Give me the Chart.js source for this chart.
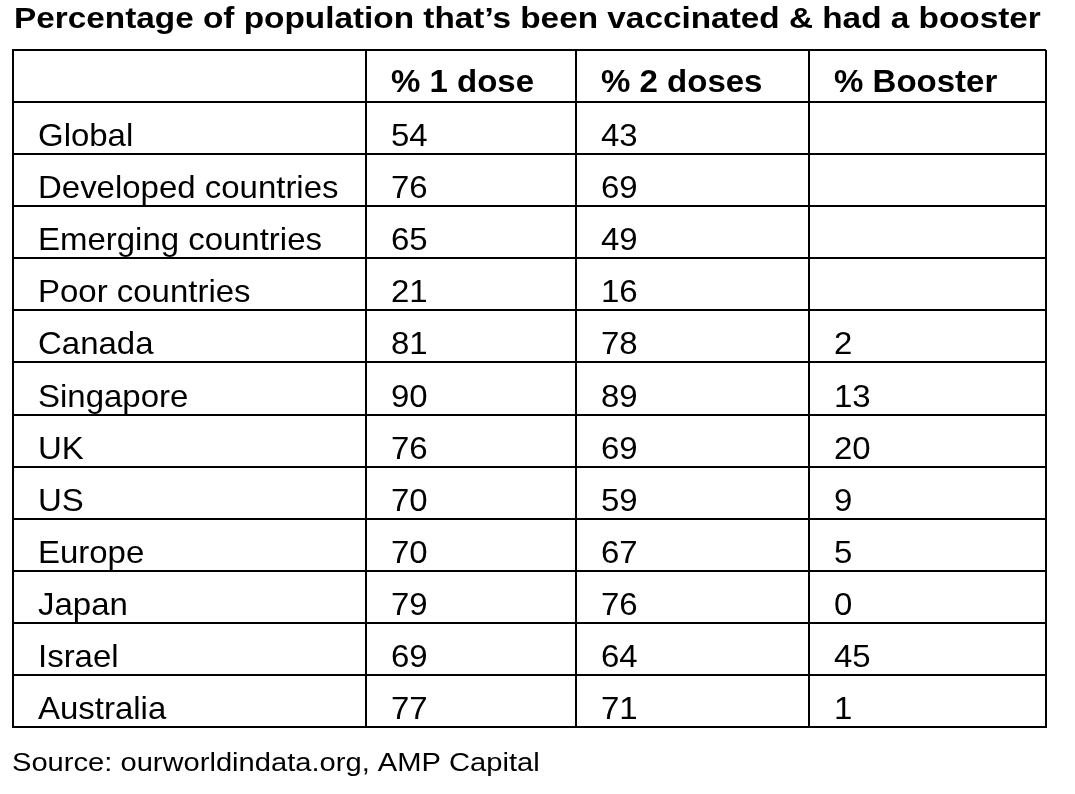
<!DOCTYPE html>
<html>
<head>
<meta charset="utf-8">
<title>Vaccination table</title>
<script src="https://cdn.jsdelivr.net/npm/chart.js@4.4.1/dist/chart.umd.min.js"></script>
<style>
  html, body { margin: 0; padding: 0; background: #fff; }
  #wrap { width: 1075px; height: 794px; position: relative; }
</style>
</head>
<body>
<div id="wrap"><canvas id="vaxTable"></canvas></div>
<script>
const titleText = 'Percentage of population that\u2019s been vaccinated & had a booster';
const sourceText = 'Source: ourworldindata.org, AMP Capital';

const headers = ['% 1 dose', '% 2 doses', '% Booster'];
const rowNames = ['Global', 'Developed countries', 'Emerging countries', 'Poor countries',
    'Canada', 'Singapore', 'UK', 'US', 'Europe', 'Japan', 'Israel', 'Australia'];
const oneDose = [54, 76, 65, 21, 81, 90, 76, 70, 70, 79, 69, 77];
const twoDoses = [43, 69, 49, 16, 78, 89, 69, 59, 67, 76, 64, 71];
const booster = [null, null, null, null, 2, 13, 20, 9, 5, 0, 45, 1];

const HEADER_ROW = ' ';
// column edges as a fraction of the table width
const colEdges = [0, 0.3417, 0.5450, 0.7706, 1];
const FONT = '"Liberation Sans", Arial, Helvetica, sans-serif';

function column(values, col) {
    const pts = [];
    values.forEach(function (v, i) {
        if (v !== null) pts.push({ x: colEdges[col], y: rowNames[i], text: String(v) });
    });
    return pts;
}

const datasets = [
    {
        label: 'header',
        data: headers.map(function (h, i) { return { x: colEdges[i + 1], y: HEADER_ROW, text: h }; }),
        bold: true
    },
    { label: 'names', data: rowNames.map(function (n) { return { x: colEdges[0], y: n, text: n }; }) },
    { label: headers[0], data: column(oneDose, 1) },
    { label: headers[1], data: column(twoDoses, 2) },
    { label: headers[2], data: column(booster, 3) }
];

// the source image is stretched sideways a little, so text gets a horizontal scale
function stretchText(ctx, text, x, y, font, sx) {
    ctx.save();
    ctx.font = font;
    ctx.fillStyle = '#000';
    ctx.textAlign = 'left';
    ctx.textBaseline = 'alphabetic';
    ctx.translate(x, y);
    ctx.scale(sx, 1);
    ctx.fillText(text, 0, 0);
    ctx.restore();
}

const cellText = {
    id: 'cellText',
    afterDatasetsDraw(chart) {
        const ctx = chart.ctx;
        chart.data.datasets.forEach(function (ds, di) {
            const meta = chart.getDatasetMeta(di);
            meta.data.forEach(function (pt, i) {
                if (ds.bold) {
                    stretchText(ctx, ds.data[i].text, pt.x + 25, pt.y + 16, 'bold 31px ' + FONT, 1.065);
                } else {
                    stretchText(ctx, ds.data[i].text, pt.x + 25, pt.y + 18, '32px ' + FONT, 1.03);
                }
            });
        });
    },
    afterDraw(chart) {
        const ctx = chart.ctx;
        stretchText(ctx, titleText, 14, 28, 'bold 29.5px ' + FONT, 1.13);
        stretchText(ctx, sourceText, 12, 771, '26px ' + FONT, 1.12);
    }
};

new Chart(document.getElementById('vaxTable'), {
    type: 'scatter',
    data: { datasets: datasets },
    plugins: [cellText],
    options: {
        responsive: true,
        maintainAspectRatio: false,
        animation: false,
        events: [],
        layout: { padding: { left: 13, right: 29, top: 50, bottom: 67 } },
        elements: { point: { radius: 0, hoverRadius: 0 } },
        plugins: {
            legend: { display: false },
            tooltip: { enabled: false },
            title: { display: false }
        },
        scales: {
            x: {
                type: 'linear',
                min: 0,
                max: 1,
                afterBuildTicks: function (axis) {
                    axis.ticks = colEdges.map(function (v) { return { value: v }; });
                },
                ticks: { display: false },
                grid: { color: '#000', lineWidth: 2, drawTicks: false },
                border: { color: '#000', width: 2 }
            },
            y: {
                type: 'category',
                labels: [HEADER_ROW].concat(rowNames),
                offset: true,
                ticks: { display: false },
                grid: { color: '#000', lineWidth: 2, drawTicks: false, offset: true },
                border: { color: '#000', width: 2 }
            }
        }
    }
});
</script>
</body>
</html>
